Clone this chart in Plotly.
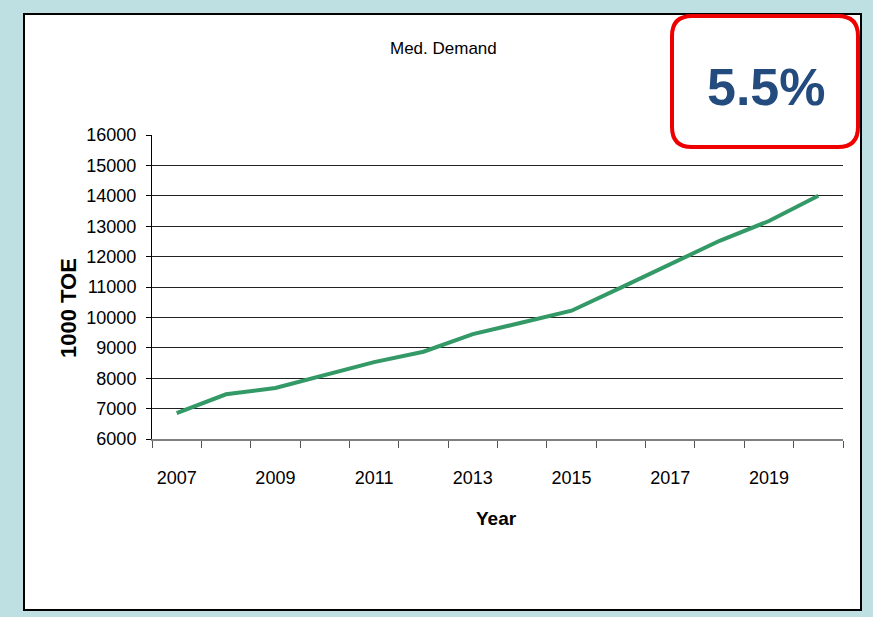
import plotly.graph_objects as go

years = list(range(2007, 2021))
demand = [6850, 7470, 7680, 8090, 8530, 8870, 9450, 9830, 10220, 10980, 11740, 12520, 13170, 14000]
label_years = [2007, 2009, 2011, 2013, 2015, 2017, 2019]
label_text = [str(y) for y in label_years]
y_ticks = list(range(6000, 16001, 1000))

FONT = "Liberation Sans Narrow, Arial Narrow, Liberation Sans, Arial, sans-serif"
BOLD = "Liberation Sans, Arial, sans-serif"

W, H = 873, 617
L, R, T, B = 152, 30, 135, 178
pw, ph = W - L - R, H - T - B

def px(x):
    return (x - L) / pw

def py(y):
    return (H - B - y) / ph

fig = go.Figure()
fig.add_trace(go.Scatter(x=years, y=demand, mode="lines",
                         line=dict(color="#339966", width=4), showlegend=False))

# rounded red box path
x0, x1, y0, y1 = px(672), px(858), py(147), py(16)
rx, ry = 20 / pw, 20 / ph
path = (f"M {x0+rx},{y1} L {x1-rx},{y1} Q {x1},{y1} {x1},{y1-ry} "
        f"L {x1},{y0+ry} Q {x1},{y0} {x1-rx},{y0} L {x0+rx},{y0} "
        f"Q {x0},{y0} {x0},{y0+ry} L {x0},{y1-ry} Q {x0},{y1} {x0+rx},{y1} Z")

def ann(text, x, y, size, family=FONT, color="black", angle=0):
    return dict(text=text, x=px(x), y=py(y), xref="paper", yref="paper",
                xanchor="center", yanchor="middle", showarrow=False,
                textangle=angle, font=dict(family=family, size=size, color=color))

fig.update_layout(
    width=W, height=H,
    margin=dict(l=L, r=R, t=T, b=B, autoexpand=False),
    paper_bgcolor="#BEE0E3",
    plot_bgcolor="rgba(0,0,0,0)",
    font=dict(family=FONT, color="black", size=18),
    shapes=[
        dict(type="rect", xref="paper", yref="paper",
             x0=px(24), x1=px(861), y0=py(610), y1=py(14),
             fillcolor="white", line=dict(color="black", width=2), layer="below"),
        dict(type="path", xref="paper", yref="paper", path=path,
             line=dict(color="#EE0000", width=4), layer="above"),
    ],
    annotations=[
        ann("Med. Demand", 443, 48, 17),
        ann("<b>5.5%</b>", 766, 87, 52, family=BOLD, color="#234B7E"),
        ann("<b>1000 TOE</b>", 68, 308, 22, family=BOLD, angle=-90),
        ann("<b>Year</b>", 496, 518, 19, family=BOLD),
    ],
)

fig.update_xaxes(
    range=[2006.5, 2020.5],
    tickmode="array", tickvals=label_years, ticktext=label_text,
    ticks="outside", ticklen=21, tickcolor="rgba(0,0,0,0)",
    showgrid=False, zeroline=False,
    showline=True, linecolor="#808080", linewidth=2,
    minor=dict(tickmode="linear", tick0=2006.5, dtick=1, ticks="outside",
               ticklen=7, tickcolor="#555555", tickwidth=1, showgrid=False),
    tickfont=dict(family=FONT, size=18),
)
fig.update_yaxes(
    range=[6000, 16000], tickmode="array", tickvals=y_ticks, tickformat="d",
    ticks="outside", ticklen=5, tickcolor="black",
    showgrid=True, gridcolor="#222222", gridwidth=1,
    showline=True, linecolor="black", linewidth=1, zeroline=False,
    ticklabelstandoff=6,
    tickfont=dict(family=FONT, size=18),
)

fig.write_html("out.html", config={"displayModeBar": False},
               post_script="document.body.style.margin='0';")
